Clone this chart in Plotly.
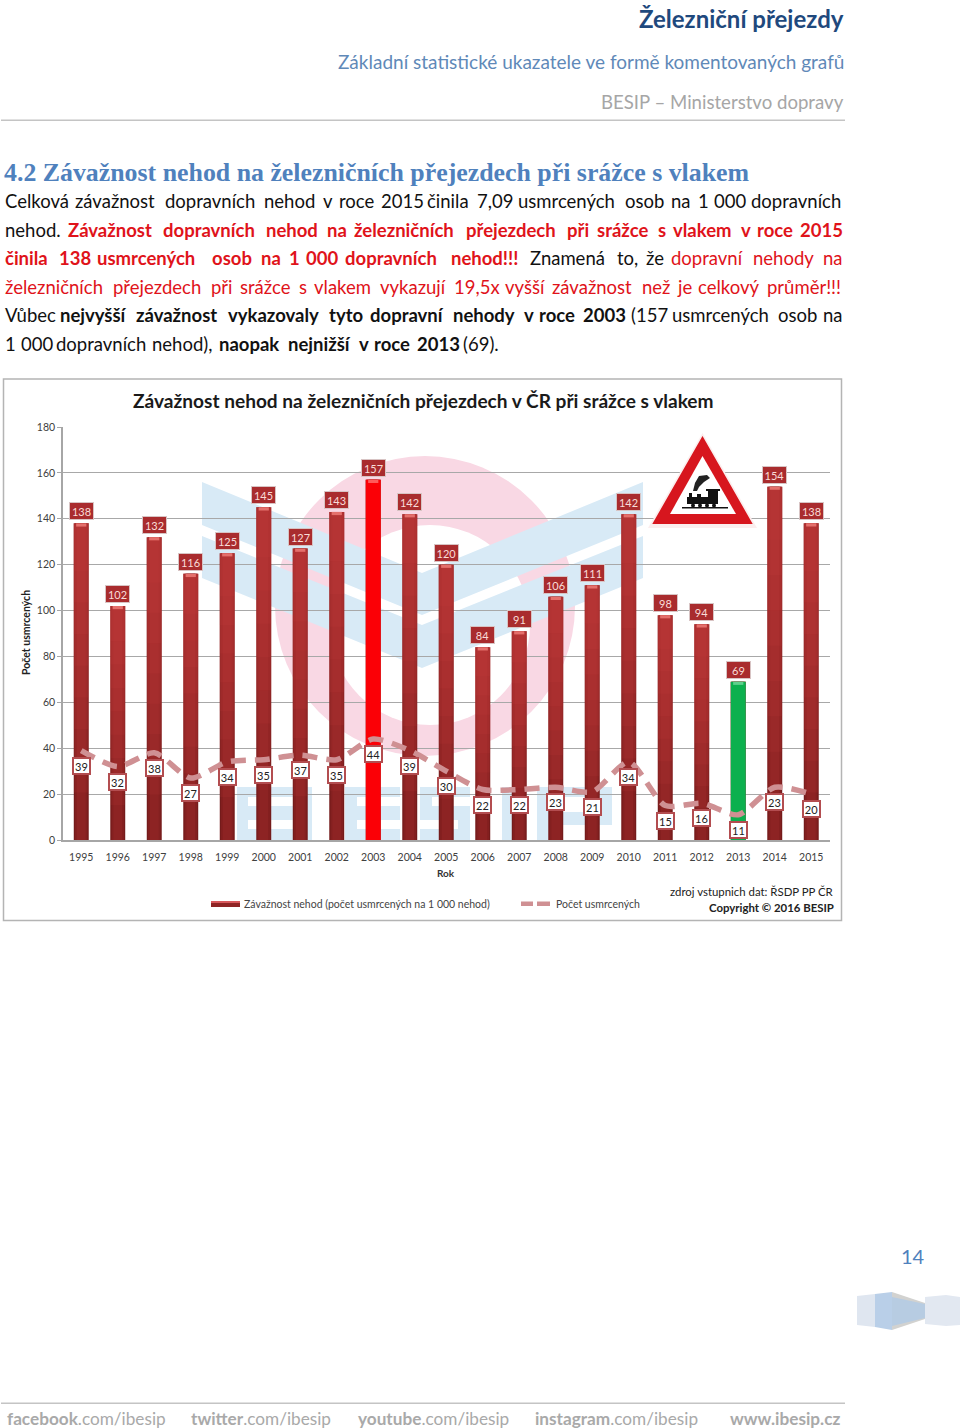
"""Závažnost nehod na železničních přejezdech - report page with the chart."""
import plotly.graph_objects as go

W, H = 960, 1428

YEARS = [str(y) for y in range(1995, 2016)]
SEVERITY = [138, 102, 132, 116, 125, 145, 127, 143, 157, 142, 120, 84, 91, 106, 111, 142, 98, 94, 69, 154, 138]
DEATHS = [39, 32, 38, 27, 34, 35, 37, 35, 44, 39, 30, 22, 22, 23, 21, 34, 15, 16, 11, 23, 20]
HIGHLIGHT = {"2003": "#fb0006", "2013": "#0cb04e"}
Y_TICKS = list(range(0, 181, 20))

CHART_TITLE = "Závažnost nehod na železničních přejezdech v ČR při srážce s vlakem"
BODY_LINES = [
    (201, 843, [("Celková závažnost dopravních nehod v roce 2015 činila 7,09 usmrcených osob na 1 000 dopravních", "n")]),
    (230, 841, [("nehod.", "n"), ("Závažnost dopravních nehod na železničních přejezdech při srážce s vlakem v roce 2015", "rb")]),
    (258, 843, [("činila 138 usmrcených osob na 1 000 dopravních nehod!!!", "rb"), ("Znamená to, že", "n"), ("dopravní nehody na", "r")]),
    (287, 842, [("železničních přejezdech při srážce s vlakem vykazují 19,5x vyšší závažnost než je celkový průměr!!!", "r")]),
    (315, 843, [("Vůbec", "n"), ("nejvyšší závažnost vykazovaly tyto dopravní nehody v roce 2003", "b"), ("(157 usmrcených osob na", "n")]),
    (344, 496, [("1 000 dopravních nehod),", "n"), ("naopak nejnižší v roce 2013", "b"), ("(69).", "n")]),
]
FOOTER = [(6, "facebook", ".com/ibesip"), (190, "twitter", ".com/ibesip"), (357, "youtube", ".com/ibesip"),
          (534, "instagram", ".com/ibesip"), (729, "www.ibesip.cz", "")]

FONT = "Lato"
BODY_SIZE = 18.5
BLUE_WM = "#d8eaf6"
PINK_WM = "#f9d8e4"
SIGN_RED = "#d7161e"


def px(x):
    return x / W


def py(y):
    return 1 - y / H


def poly(points, fill, layer="below", line=None):
    path = "M" + " L".join(f"{px(x):.5f},{py(y):.5f}" for x, y in points) + " Z"
    return dict(type="path", xref="paper", yref="paper", path=path, fillcolor=fill, layer=layer,
                line=dict(width=line[1], color=line[0]) if line else dict(width=0))


def rect(x0, y0, x1, y1, fill, layer="below"):
    return dict(type="rect", xref="paper", yref="paper", x0=px(x0), x1=px(x1), y0=py(y0), y1=py(y1),
                fillcolor=fill, layer=layer, line=dict(width=0))


def disc(cx, cy, r, fill, layer="below"):
    return dict(type="circle", xref="paper", yref="paper", x0=px(cx - r), x1=px(cx + r), y0=py(cy + r), y1=py(cy - r),
                fillcolor=fill, layer=layer, line=dict(width=0))


def note(x, y, text, size, color, anchor="left", font=FONT, angle=0):
    return dict(xref="paper", yref="paper", x=px(x), y=py(y), text=text, showarrow=False, xanchor=anchor,
                yanchor="middle", align=anchor, textangle=angle, borderpad=0,
                font=dict(family=font, size=size, color=color))


def est_width(word, bold):
    # rough glyph widths, only used to share out the justified lines
    w = 0
    for c in word:
        if c in "ijlíI.,!()ť'":
            w += 0.48
        elif c in "tfrř":
            w += 0.7
        elif c in "mwMW":
            w += 1.6
        elif c in "sščcczž":
            w += 0.86
        elif c in "nňuůúhdďpb":
            w += 1.08
        elif c in "yývV":
            w += 0.92
        elif c in "ZČ":
            w += 1.15
        else:
            w += 1.0
    return w * (1.05 if bold else 1.0)


def body_annotations():
    styles = {"n": ("#111111", False), "r": ("#e0131a", False), "b": ("#111111", True), "rb": ("#e0131a", True)}
    out = []
    for y, right, segs in BODY_LINES:
        words = [(w, s) for text, s in segs for w in text.split(" ")]
        widths = [est_width(w, styles[s][1]) for w, s in words]
        space = 0.62
        total = sum(widths) + space * (len(words) - 1)
        unit = (right - 4) / total
        x = 4
        for (word, s), wd in zip(words, widths):
            color, bold = styles[s]
            out.append(note(x, y, f"<b>{word}</b>" if bold else word, BODY_SIZE, color))
            x += (wd + space) * unit
    return out


fig = go.Figure()

# bar body: dark edges, lighter centre, brighter towards the top
for width, color in [(0.41, "#741b1b"), (0.34, "#842020"), (0.24, "#8d2323")]:
    fig.add_trace(go.Bar(x=YEARS, y=SEVERITY, width=width, marker_color=color, marker_line_width=0,
                         showlegend=False, hoverinfo="skip"))
for frac in (0.15, 0.25, 0.35, 0.45, 0.55, 0.65, 0.75, 0.85):
    fig.add_trace(go.Bar(x=YEARS, y=[v * (1 - frac) for v in SEVERITY], base=[v * frac for v in SEVERITY],
                         width=0.41, marker_color="rgba(214,66,66,0.1)", marker_line_width=0,
                         showlegend=False, hoverinfo="skip"))
fig.add_trace(go.Bar(x=YEARS, y=[v if y in HIGHLIGHT else None for y, v in zip(YEARS, SEVERITY)],
                     width=0.41, marker_color=[HIGHLIGHT.get(y, "#000") for y in YEARS], marker_line_width=0,
                     showlegend=False, hoverinfo="skip"))
fig.add_trace(go.Bar(x=YEARS, y=[1.4] * len(YEARS), base=[v - 1.4 for v in SEVERITY], width=0.28,
                     marker_color=["#ff5a5a" if y == "2003" else "#5fd08c" if y == "2013" else "#e4706c" for y in YEARS],
                     marker_line_width=0, showlegend=False, hoverinfo="skip"))

fig.add_trace(go.Scatter(x=YEARS, y=DEATHS, mode="lines", showlegend=False, hoverinfo="skip",
                         line=dict(color="#cf9093", width=5.5, dash="15px,9px", shape="spline", smoothing=0.7)))

annotations = []
for i, v in enumerate(SEVERITY):
    annotations.append(dict(x=i, y=v, xref="x", yref="y", text=str(v), showarrow=False, yanchor="bottom", yshift=3,
                            width=23, height=16, bgcolor="#a92c2e", bordercolor="#d8c4c4", borderwidth=1, borderpad=0,
                            font=dict(family=FONT, size=11, color="#f9dcd8")))
for i, v in enumerate(DEATHS):
    annotations.append(dict(x=i, y=v, xref="x", yref="y", text=str(v), showarrow=False, yanchor="top", yshift=-6,
                            width=15, height=14, bgcolor="#ffffff", bordercolor="#b34d50", borderwidth=2, borderpad=0,
                            font=dict(family=FONT, size=11, color="#222222")))

annotations += body_annotations()
annotations += [
    note(844.5, 19, "<b>Železniční přejezdy</b>", 24, "#1f497d", "right"),
    note(844.5, 62, "Základní statistické ukazatele ve formě komentovaných grafů", 19, "#5f89b8", "right"),
    note(844.5, 102, "BESIP – Ministerstvo dopravy", 18.6, "#a6a6a6", "right"),
    note(3, 172, "<b>4.2 Závažnost nehod na železničních přejezdech při srážce s vlakem</b>", 25.85, "#4f81bd",
         font="Liberation Serif"),
    note(423, 400, f"<b>{CHART_TITLE}</b>", 19.1, "#1a1a1a", "center"),
    note(26, 633, "<b>Počet usmrcených</b>", 10.5, "#222222", "center", angle=-90),
    note(446, 873, "<b>Rok</b>", 10, "#333333", "center"),
    note(243, 904, "Závažnost nehod (počet usmrcených na 1 000 nehod)", 10.5, "#444444"),
    note(555, 904, "Počet usmrcených", 10.5, "#444444"),
    note(835, 891, "zdroj vstupnich dat: ŘSDP PP ČR", 11.4, "#222222", "right"),
    note(835, 907, "<b>Copyright © 2016 BESIP</b>", 11.4, "#222222", "right"),
    note(913, 1256, "14", 20, "#4f81bd", "center"),
]
for x, strong, rest in FOOTER:
    annotations.append(note(x, 1418, f"<b>{strong}</b>{rest}", 17.2, "#a9a9a9"))

shapes = [
    # page rules and chart frame
    rect(1, 119.5, 845, 121, "#c4c4c4"),
    rect(1, 1402.5, 845, 1404, "#c4c4c4"),
    dict(type="rect", xref="paper", yref="paper", x0=px(3.5), x1=px(841.5), y0=py(379), y1=py(920.5),
         fillcolor="rgba(0,0,0,0)", layer="below", line=dict(width=1.5, color="#b4b4b4")),
    # logo watermark: ring, chevrons, letters
    disc(425, 606, 150, PINK_WM),
    disc(430, 625, 100, "#ffffff"),
    poly([(202, 482), (422, 573), (643, 482), (643, 525), (422, 615), (202, 525)], BLUE_WM),
    poly([(202, 536), (422, 625), (643, 536), (643, 578), (422, 668), (202, 578)], BLUE_WM),
    rect(237, 787, 312, 840, BLUE_WM),
    rect(248, 797, 295, 806, "#ffffff"),
    rect(248, 820, 295, 829, "#ffffff"),
    rect(345, 787, 400, 840, BLUE_WM),
    rect(357, 797, 400, 806, "#ffffff"),
    rect(357, 820, 400, 829, "#ffffff"),
    rect(420, 787, 470, 840, BLUE_WM),
    rect(432, 797, 470, 806, "#ffffff"),
    rect(420, 820, 458, 829, "#ffffff"),
    rect(502, 787, 519, 840, BLUE_WM),
    rect(537, 787, 612, 825, BLUE_WM),
    rect(537, 825, 552, 840, BLUE_WM),
    rect(552, 797, 598, 812, "#ffffff"),
    # level crossing sign
    poly([(702.5, 433), (757, 528), (648, 528)], "#fbeeee", "above"),
    poly([(702.5, 438), (751, 523), (654, 523)], SIGN_RED, "above", (SIGN_RED, 2)),
    poly([(702.5, 456), (736, 514), (670, 514)], "#ffffff", "above"),
    rect(682, 507, 728, 508.5, "#111111", "above"),
    rect(687, 497, 709, 504, "#111111", "above"),
    rect(708, 490, 718, 504, "#111111", "above"),
    rect(706, 489, 720, 491, "#111111", "above"),
    rect(689, 493, 692, 498, "#111111", "above"),
    rect(697, 494, 701, 498, "#111111", "above"),
    disc(693, 505.5, 2, "#111111", "above"),
    disc(700, 505.5, 2, "#111111", "above"),
    disc(707, 505.5, 2, "#111111", "above"),
    disc(714, 505.5, 2, "#111111", "above"),
    poly([(693, 491), (695, 483), (699, 476), (707, 475), (710, 478), (704, 482), (699, 487), (697, 491)], "#222222", "above"),
    # legend keys
    rect(211, 901, 240, 907, "#8f2424"),
    rect(211, 901, 240, 903, "#d8595c"),
    rect(521, 901.5, 533, 906, "#cf9093"),
    rect(537, 901.5, 550, 906, "#cf9093"),
    # page ribbon
    poly([(857, 1296), (875, 1294), (875, 1327), (857, 1325)], "#dfe6f0"),
    poly([(875, 1294), (892, 1292), (892, 1330), (875, 1327)], "#b9cfe8"),
    poly([(892, 1292), (925, 1303), (925, 1319), (892, 1330)], "#d2d2d0"),
    poly([(892, 1297), (925, 1304), (925, 1318), (892, 1326)], "#b7cce2"),
    poly([(925, 1297), (946, 1295), (960, 1297), (960, 1325), (946, 1326), (925, 1324)], "#e2e8f1"),
]

fig.update_layout(
    width=W, height=H, margin=dict(l=0, r=0, t=0, b=0, pad=0), autosize=False,
    paper_bgcolor="#ffffff", plot_bgcolor="rgba(0,0,0,0)",
    barmode="overlay", showlegend=False,
    font=dict(family=FONT, color="#404040"),
    annotations=annotations, shapes=shapes,
    xaxis=dict(domain=[px(63), px(829.5)], type="category", categoryorder="array", categoryarray=YEARS,
               range=[-0.5, 20.5], automargin=False, showgrid=False, showline=True, linecolor="#a6a6a6", linewidth=1.5,
               ticks="outside", ticklen=7, tickcolor="rgba(0,0,0,0)", tickfont=dict(size=10.5, color="#404040")),
    yaxis=dict(domain=[py(840), py(427)], range=[0, 180], tickvals=Y_TICKS, automargin=False, showgrid=True,
               gridcolor="#a8a8a8", gridwidth=1.3, zeroline=False, showline=True, linecolor="#a6a6a6", linewidth=1.5,
               ticks="outside", ticklen=4, tickcolor="#a6a6a6", tickfont=dict(size=10.5, color="#404040")),
)

fig.write_html("out.html", config={"displayModeBar": False}, post_script="document.body.style.margin='0';")
